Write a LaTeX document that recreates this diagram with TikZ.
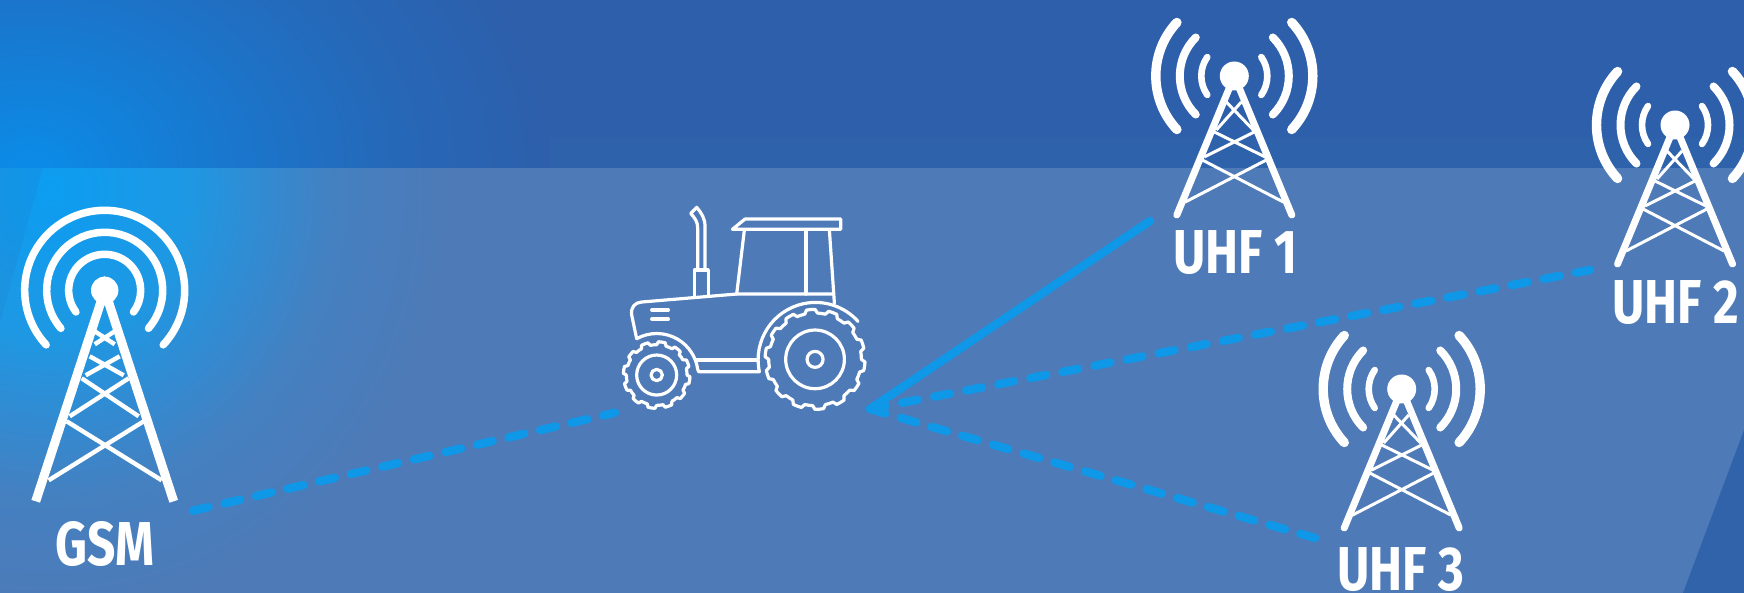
\documentclass[tikz,border=0pt]{standalone}
\usepackage{fontspec}
\usepackage{tikz}
\usetikzlibrary{positioning}
\newfontfamily\labelfont[FakeStretch=0.8]{Fira Sans}
\definecolor{Base}{HTML}{4E7AB7}
\definecolor{Band}{HTML}{2D5FAB}
\definecolor{BandLow}{HTML}{2E63AC}
\definecolor{Wedge}{HTML}{3163AA}
\definecolor{GlowLow}{HTML}{0C9DF1}
\definecolor{GlowLowA}{HTML}{1E98E3}
\definecolor{GlowLowB}{HTML}{3589CF}
\definecolor{GlowLowC}{HTML}{4580C0}
\definecolor{GlowTop}{HTML}{0A8CE8}
\definecolor{GlowTopA}{HTML}{1A76CC}
\definecolor{GlowTopB}{HTML}{2668B8}
\definecolor{Link}{HTML}{0F97E8}
\pgfdeclareradialshading{lowglow}{\pgfpointorigin}{color(0bp)=(GlowLow); color(8.5bp)=(GlowLowA); color(14bp)=(GlowLowB); color(18bp)=(GlowLowC); color(25bp)=(Base); color(50bp)=(Base)}
\pgfdeclareradialshading{topglow}{\pgfpointorigin}{color(0bp)=(GlowTop); color(10bp)=(GlowTopA); color(17.5bp)=(GlowTopB); color(25bp)=(Band); color(50bp)=(Band)}
\tikzset{
  towerlabel/.style={font=\labelfont\bfseries\fontsize{31}{31}\selectfont,text=white,anchor=base,inner sep=0pt},
  linkline/.style={Link,line width=4.2pt,line cap=round},
  linkdash/.style={linkline,dash pattern=on 8pt off #1pt},
  tractorline/.style={white,line width=1.6pt,line cap=round,line join=round},
  uhftower/.pic={
    \fill[white] (0,0) circle (14.5);
    \draw[white,line width=3.5pt,line cap=round,line join=miter] (-57.5,139) -- (0,0) -- (57.5,139);
    \draw[white,line width=1.5pt] (-49,126) -- (32,84) (-32,84) -- (49,126)
      (-30,81) -- (20,56) (-20,56) -- (31,81) (-18,54) -- (7,26) (-8,26) -- (19,54);
    \foreach \r/\a/\w in {33/35/3.3pt,54.5/45/4pt,78.5/43/4.7pt}{
      \draw[white,line width=\w,line cap=round] (180-\a:\r) arc[start angle=180-\a,end angle=180+\a,radius=\r];
      \draw[white,line width=\w,line cap=round] (-\a:\r) arc[start angle=-\a,end angle=\a,radius=\r];
    }
  },
  gsmtower/.pic={
    \fill[white] (0,0) circle (13.7);
    \draw[white,line width=4.5pt,line join=miter] (-69,211) -- (0,0) -- (69,211);
    \draw[white,line width=2.2pt] (-56,190) -- (39,131) (-38,131) -- (57,190)
      (-35,126) -- (24,88) (-23,88) -- (34,126) (-19,85) -- (15,66) (-15,66) -- (19,85)
      (-10,54) -- (10,41) (-10,41) -- (10,54);
    \foreach \r/\a in {36/37,58/41,80/43}{
      \draw[white,line width=3.75pt,line cap=round] (180-\a:\r) arc[start angle=180-\a,end angle=360+\a,radius=\r];
    }
  }
}
\begin{document}
\begin{tikzpicture}[x=0.5pt,y=-0.5pt]
  \useasboundingbox (0,0) rectangle (1744,593);
  \clip (0,0) rectangle (1744,593);
  % backdrop
  \fill[Base] (0,0) rectangle (1744,593);
  \begin{scope}
    \clip (0,168) rectangle (1744,593);
    \shade[shading=lowglow] (50,190) ellipse (400 and 430);
  \end{scope}
  \fill[Wedge] (1683,593) -- (1744,430) -- (1744,593) -- cycle;
  \fill[Band] (0,0) rectangle (1744,168);
  \fill[BandLow] (0,138) rectangle (1744,168);
  \begin{scope}
    \clip (0,0) rectangle (1744,168);
    \shade[shading=topglow] (30,168) ellipse (520 and 400);
  \end{scope}
  \fill[Band,opacity=0.1] (0,168) -- (43,168) -- (0,323) -- cycle;

  % tractor
  \begin{scope}[shift={(600,190)},x=0.1667pt,y=-0.1667pt]
    \draw[tractorline] (283,318) -- (283,240) -- (325,240) -- (325,315);
    \draw[tractorline] (293,240) -- (293,115) .. controls (293,95) and (285,85) .. (272,70)
      -- (290,52) .. controls (305,70) and (315,85) .. (315,110) -- (315,240);
    \draw[tractorline] (397,118) -- (435,87) -- (722,87) -- (722,118) -- cycle;
    \draw[tractorline] (433,120) -- (410,312);
    \draw[tractorline] (618,120) -- (618,312);
    \draw[tractorline] (688,120) -- (703,340);
    \draw[tractorline] (110,446) -- (95,375) .. controls (92,350) and (105,338) .. (125,336)
      -- (410,312) -- (697,312);
    \draw[tractorline] (110,446) arc[start angle=241,end angle=352,radius=124] -- (296,545) -- (478,545)
      arc[start angle=168,end angle=318,radius=172];
    \draw[tractorline] (290,510) -- (470,510);
    \draw[tractorline] (155,360) -- (205,360) (155,387) -- (205,387);
    \foreach \cx/\cy/\ra/\rb/\cnt/\rc/\rd in {170/555/100/91/12/60/17,645/508/150/139/14/88/24}{
      \draw[tractorline] (\cx,\cy) circle (\rc) (\cx,\cy) circle (\rd);
      \foreach \n in {1,...,\cnt}{
        \pgfmathsetmacro\st{360/\cnt}
        \pgfmathsetmacro\a{\n*\st}
        \draw[tractorline,shift={(\cx,\cy)}] (\a:\rb) -- (\a+3:\ra)
          arc[start angle=\a+3,end angle=\a+.5*\st,radius=\ra] -- (\a+.5*\st+3:\rb)
          arc[start angle=\a+.5*\st+3,end angle=\a+\st,radius=\rb];
      }
    }
  \end{scope}

  % towers
  \pic (gsm) at (104.7,290.3) {gsmtower};
  \pic (uhfa) at (1234.3,76) {uhftower};
  \pic (uhfb) at (1675,125) {uhftower};
  \pic (uhfc) at (1401.7,389) {uhftower};
  \node[towerlabel] (gsmlabel) at (104.7,565) {GSM};
  \node[towerlabel] (uhfalabel) at (1235.5,273.3) {UHF 1};
  \node[towerlabel] (uhfblabel) at (1675.7,323) {UHF 2};
  \node[towerlabel] (uhfclabel) at (1400.7,590) {UHF 3};

  % links
  \coordinate (hub) at (870,409);
  \coordinate (gsmend) at (193,510.7);
  \coordinate (tractorend) at (615,412.7);
  \coordinate (uhfaend) at (1150,221);
  \coordinate (uhfbend) at (1590,270);
  \coordinate (uhfcend) at (1315,538);
  \draw[linkdash=8.2] (gsmend) -- (tractorend);
  \draw[linkline] (uhfaend) -- (hub);
  \draw[linkdash=8.34] (hub) -- (uhfbend);
  \draw[linkdash=8.0] (hub) -- (uhfcend);
\end{tikzpicture}
\end{document}
